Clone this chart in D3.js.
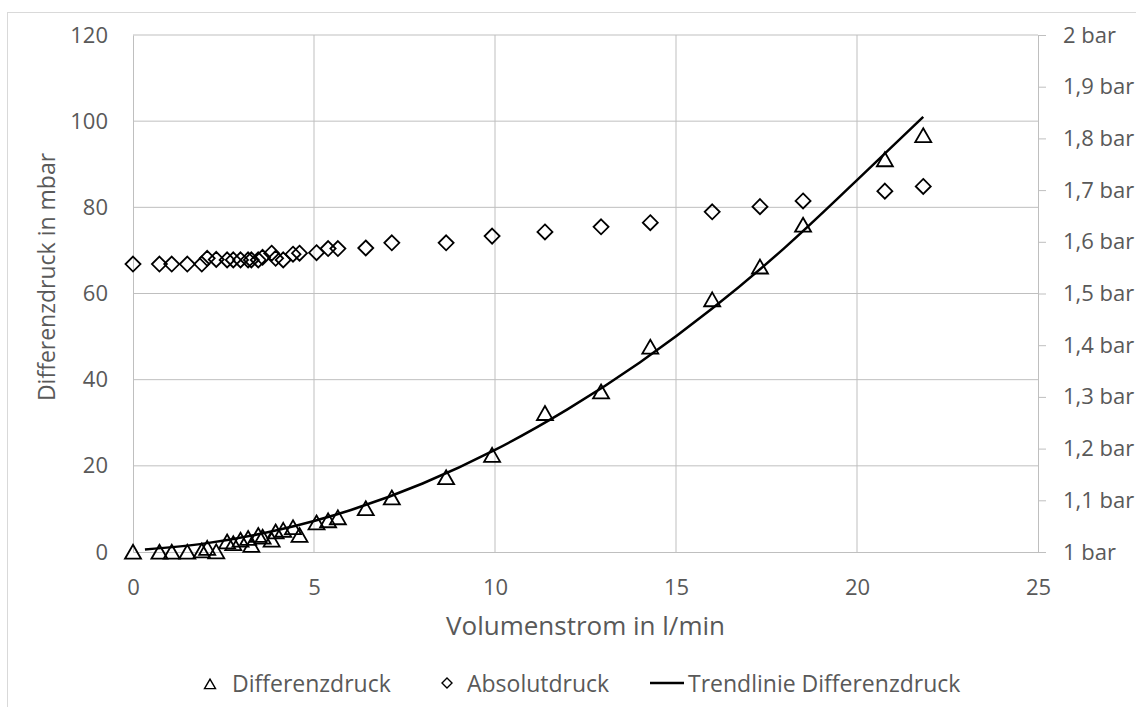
<!DOCTYPE html>
<html>
<head>
<meta charset="utf-8">
<script src="https://cdn.jsdelivr.net/npm/d3@7"></script>
<style>
  body { margin: 0; background: #fff; }
  svg text { font-family: "Open Sans", sans-serif; fill: #595959; }
</style>
</head>
<body>
<div id="chart"></div>
<script>
// ---- DATA ----
const flow = [0, 0.73, 1.07, 1.5, 1.9, 2.05, 2.3, 2.6, 2.77, 2.97, 3.18, 3.27, 3.46, 3.58,
  3.83, 3.94, 4.15, 4.42, 4.6, 5.07, 5.39, 5.66, 6.43, 7.15, 8.65, 9.92, 11.38, 12.93,
  14.29, 16.0, 17.32, 18.51, 20.77, 21.83];
const diffPressure = [0, 0, 0, 0, 0.3, 0.9, 0.1, 2.4, 2.0, 2.8, 3.2, 1.6, 3.9, 3.5,
  2.8, 4.7, 5.1, 5.7, 3.9, 6.8, 7.3, 8.0, 10.1, 12.6, 17.3, 22.5, 32.2, 37.2,
  47.6, 58.6, 66.2, 75.9, 91.1, 96.7];
const absPressure = [1.557, 1.557, 1.557, 1.557, 1.557, 1.568, 1.566, 1.565, 1.565, 1.565, 1.565, 1.565, 1.565, 1.570,
  1.578, 1.568, 1.565, 1.576, 1.578, 1.579, 1.587, 1.587, 1.588, 1.598, 1.598, 1.611, 1.619, 1.629,
  1.637, 1.658, 1.668, 1.679, 1.698, 1.707];

// trendline as it appears in the picture
const trendFlow = [0.33, 2, 4, 6, 8, 10, 12, 14, 16, 18, 20, 21.83];
const trendDiff = [0.6, 2.0, 5.1, 9.7, 15.9, 23.7, 33.1, 44.0, 56.5, 70.6, 86.3, 101.0];

const xTicks = [0, 5, 10, 15, 20, 25];
const yTicks = [0, 20, 40, 60, 80, 100, 120];
const barTicks = [1, 1.1, 1.2, 1.3, 1.4, 1.5, 1.6, 1.7, 1.8, 1.9, 2];
const barTickLabels = ["1 bar", "1,1 bar", "1,2 bar", "1,3 bar", "1,4 bar", "1,5 bar",
  "1,6 bar", "1,7 bar", "1,8 bar", "1,9 bar", "2 bar"];

const legendNames = ["Differenzdruck", "Absolutdruck", "Trendlinie Differenzdruck"];

function drawPressureChart(divId) {

  const width = 1136;
  const height = 707;
  const margin = { top: 35, right: 98, bottom: 155, left: 133 };
  const gridColor = "#bfbfbf";

  const svg = d3.select("#" + divId)
    .append("svg")
    .attr("width", width)
    .attr("height", height);

  // outer chart border
  svg.append("rect")
    .attr("x", 7.5).attr("y", 12.5)
    .attr("width", 1200).attr("height", 800)
    .attr("fill", "none")
    .attr("stroke", "#d9d9d9");

  // ---- SCALES ----
  const x = d3.scaleLinear().domain([0, 25]).range([margin.left, width - margin.right]);
  const y = d3.scaleLinear().domain([0, 120]).range([height - margin.bottom, margin.top]);
  const y2 = d3.scaleLinear().domain([1, 2]).range([height - margin.bottom, margin.top]);

  // ---- GRID ----
  svg.append("g")
    .selectAll("line")
    .data(yTicks.slice(1))
    .enter().append("line")
    .attr("x1", x(0)).attr("x2", x(25))
    .attr("y1", d => y(d)).attr("y2", d => y(d))
    .attr("stroke", gridColor);

  svg.append("g")
    .selectAll("line")
    .data(xTicks.slice(1, -1))
    .enter().append("line")
    .attr("x1", d => x(d)).attr("x2", d => x(d))
    .attr("y1", y(0)).attr("y2", y(120))
    .attr("stroke", gridColor);

  // ---- AXES ----
  const xAxis = svg.append("g")
    .attr("transform", `translate(0,${y(0)})`)
    .call(d3.axisBottom(x).tickValues(xTicks).tickSize(0).tickPadding(27));

  const yAxis = svg.append("g")
    .attr("transform", `translate(${x(0)},0)`)
    .call(d3.axisLeft(y).tickValues(yTicks).tickSize(0).tickPadding(25));

  const y2Axis = svg.append("g")
    .attr("transform", `translate(${x(25)},0)`)
    .call(d3.axisRight(y2).tickValues(barTicks).tickSize(8).tickPadding(17)
      .tickFormat((d, i) => barTickLabels[i]));

  [xAxis, yAxis, y2Axis].forEach(a => {
    a.attr("font-size", 22).attr("font-family", null);
    a.select(".domain").attr("stroke", gridColor);
    a.selectAll(".tick line").attr("stroke", gridColor);
  });

  // axis titles
  svg.append("text")
    .attr("x", (x(0) + x(25)) / 2)
    .attr("y", 635)
    .attr("text-anchor", "middle")
    .attr("font-size", 26)
    .text("Volumenstrom in l/min");

  svg.append("text")
    .attr("transform", "translate(46,277) rotate(-90)")
    .attr("text-anchor", "middle")
    .attr("dominant-baseline", "central")
    .attr("font-size", 23)
    .text("Differenzdruck in mbar");

  // ---- MARKERS ----
  const tri = s => `M0,${-s * 0.45}L${s / 2},${s * 0.42}L${-s / 2},${s * 0.42}Z`;
  const dia = s => `M0,${-s / 2}L${s / 2},0L0,${s / 2}L${-s / 2},0Z`;

  svg.append("g")
    .selectAll("path")
    .data(flow)
    .enter().append("path")
    .attr("d", tri(16))
    .attr("transform", (d, i) => `translate(${x(d)},${y(diffPressure[i])})`)
    .attr("fill", "none")
    .attr("stroke", "#000")
    .attr("stroke-width", 1.8);

  svg.append("g")
    .selectAll("path")
    .data(flow)
    .enter().append("path")
    .attr("d", dia(15))
    .attr("transform", (d, i) => `translate(${x(d)},${y2(absPressure[i])})`)
    .attr("fill", "none")
    .attr("stroke", "#000")
    .attr("stroke-width", 1.8);

  // ---- TRENDLINE ----
  const line = d3.line()
    .x(d => x(d))
    .y((d, i) => y(trendDiff[i]))
    .curve(d3.curveMonotoneX);

  svg.append("path")
    .datum(trendFlow)
    .attr("d", line)
    .attr("fill", "none")
    .attr("stroke", "#000")
    .attr("stroke-width", 2.5);

  // ---- LEGEND ----
  const ly = 683;
  const legend = svg.append("g");

  legend.append("path")
    .attr("d", tri(11))
    .attr("transform", `translate(210,${ly + 1})`)
    .attr("fill", "none").attr("stroke", "#000").attr("stroke-width", 1.4);
  legend.append("path")
    .attr("d", dia(10))
    .attr("transform", `translate(447,${ly})`)
    .attr("fill", "none").attr("stroke", "#000").attr("stroke-width", 1.4);
  legend.append("line")
    .attr("x1", 650).attr("x2", 684)
    .attr("y1", ly).attr("y2", ly)
    .attr("stroke", "#000").attr("stroke-width", 2.5);

  legend.selectAll("text")
    .data(legendNames)
    .enter().append("text")
    .attr("x", (d, i) => [232, 467, 688][i])
    .attr("y", ly)
    .attr("dominant-baseline", "central")
    .attr("font-size", 23)
    .text(d => d);
}

drawPressureChart("chart");
</script>
</body>
</html>
